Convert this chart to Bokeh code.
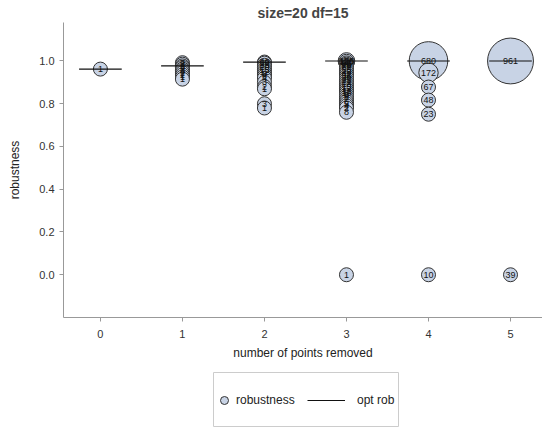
import numpy as np
from bokeh.plotting import figure
from bokeh.models import (ColumnDataSource, Legend, LegendItem, Range1d, FixedTicker,
                          PrintfTickFormatter, Spacer)
from bokeh.layouts import column, row
from bokeh.core.properties import value
from bokeh.embed import file_html
from bokeh.resources import INLINE

FONT = "Liberation Sans"

# number of points removed -> robustness values and their counts
rob_0 = [0.962]
cnt_0 = [1]
rob_1 = [0.915, 0.925, 0.935, 0.945, 0.955, 0.962, 0.97, 0.977, 0.985, 0.992]
cnt_1 = [1, 1, 2, 2, 3, 2, 3, 2, 2, 2]
rob_2 = [0.995, 0.99, 0.98, 0.97, 0.96, 0.95, 0.94, 0.93, 0.92, 0.90, 0.88, 0.87, 0.80, 0.78]
cnt_2 = [60, 29, 25, 20, 15, 12, 9, 6, 4, 3, 2, 1, 3, 1]
rob_3 = [1.0, 0.995, 0.99, 0.985, 0.98, 0.975, 0.97, 0.96, 0.95, 0.94, 0.93, 0.92, 0.91,
         0.90, 0.89, 0.88, 0.87, 0.86, 0.85, 0.84, 0.83, 0.82, 0.81, 0.80, 0.79, 0.78, 0.76, 0.0]
cnt_3 = [126, 110, 95, 85, 78, 70, 62, 55, 48, 42, 36, 30, 25,
         21, 18, 15, 13, 11, 10, 9, 8, 7, 6, 5, 4, 2, 8, 1]
rob_4 = [1.0, 0.945, 0.878, 0.817, 0.751, 0.0]
cnt_4 = [680, 172, 67, 48, 23, 10]
rob_5 = [1.0, 0.0]
cnt_5 = [961, 39]

removed_levels = [0, 1, 2, 3, 4, 5]
opt_rob = [0.962, 0.977, 0.995, 1.0, 1.0, 1.0]
series_names = ["robustness", "opt rob"]

groups = [(rob_0, cnt_0), (rob_1, cnt_1), (rob_2, cnt_2), (rob_3, cnt_3), (rob_4, cnt_4), (rob_5, cnt_5)]
xs, ys, ns = [], [], []
for k, (r, c) in zip(removed_levels, groups):
    xs += [k] * len(r)
    ys += r
    ns += c
xs = np.array(xs, float); ys = np.array(ys, float); ns = np.array(ns, float)
order = np.argsort(-ys, kind="stable")
xs, ys, ns = xs[order], ys[order], ns[order]
sizes = np.maximum(14.0, 1.48 * np.sqrt(ns))
src = ColumnDataSource(dict(x=xs, y=ys, size=sizes, label=[str(int(n)) for n in ns]))

FILL = "#c8d3e5"
EDGE = "#333333"
LINE = "#111111"

p = figure(width=542, height=362, output_backend="svg", toolbar_location=None,
           x_range=Range1d(-0.45, 5.39), y_range=Range1d(-0.2, 1.18),
           min_border_left=63, min_border_right=0, min_border_top=0,
           min_border_bottom=44,
           background_fill_color="white", border_fill_color="white")
p.outline_line_color = None
p.grid.visible = False

p.title.text = "size=20 df=15"
p.title.align = "center"
p.title.text_font = FONT
p.title.text_font_size = "14px"
p.title.text_font_style = "bold"
p.title.standoff = 4
p.title.offset = 0

for ax in (p.xaxis[0], p.yaxis[0]):
    ax.axis_line_color = "#999999"
    ax.major_tick_line_color = "#999999"
    ax.minor_tick_line_color = None
    ax.major_tick_in = 0
    ax.major_tick_out = 4
    ax.major_label_text_font = FONT
    ax.major_label_text_font_size = "11px"
    ax.major_label_text_color = "#333333"
    ax.axis_label_text_font = FONT
    ax.axis_label_text_font_size = "12px"
    ax.axis_label_text_font_style = "normal"
    ax.axis_label_text_color = "#222222"
p.xaxis.ticker = FixedTicker(ticks=removed_levels)
p.yaxis.ticker = FixedTicker(ticks=[0.0, 0.2, 0.4, 0.6, 0.8, 1.0])
p.yaxis.formatter = PrintfTickFormatter(format="%.1f")
p.xaxis.axis_label = "number of points removed"
p.yaxis.axis_label = "robustness"
p.xaxis.major_label_standoff = 8
p.xaxis.axis_label_standoff = 5
p.yaxis.major_label_standoff = 5
p.yaxis.axis_label_standoff = 14

p.scatter("x", "y", size="size", source=src, fill_color=FILL, line_color=EDGE, line_width=1)
p.text("x", "y", text="label", source=src, text_align="center", text_baseline="middle",
       text_font=value(FONT), text_font_size="9px", text_color="#111111")

lsrc = ColumnDataSource(dict(x0=[k - 0.26 for k in removed_levels],
                             x1=[k + 0.26 for k in removed_levels], y=opt_rob))
p.segment("x0", "y", "x1", "y", source=lsrc, line_color=LINE, line_width=1.2)

# legend box (separate small figure below the plot)
lg = figure(width=186, height=55, output_backend="svg", toolbar_location=None,
            x_range=Range1d(0, 1), y_range=Range1d(0, 1),
            x_axis_type=None, y_axis_type=None,
            min_border_left=0, min_border_right=0, min_border_top=0, min_border_bottom=0,
            background_fill_color="white", border_fill_color="white")
lg.grid.visible = False
lg.outline_line_color = "#cccccc"
lg.outline_line_width = 1
d_pts = lg.scatter(x=[10], y=[10], size=8, fill_color=FILL, line_color=EDGE, line_width=1)
d_line = lg.line(x=[10, 11], y=[10, 10], line_color=LINE, line_width=1.2)

leg_a = Legend(items=[LegendItem(label=series_names[0], renderers=[d_pts])],
               location=(0, 17), orientation="horizontal")
leg_b = Legend(items=[LegendItem(label=series_names[1], renderers=[d_line])],
               location=(94, 17), orientation="horizontal")
for lgd, gw, st in ((leg_a, 22, 1), (leg_b, 38, 12)):
    lgd.label_text_font = FONT
    lgd.label_text_font_size = "12px"
    lgd.label_text_color = "#222222"
    lgd.border_line_color = None
    lgd.background_fill_alpha = 0
    lgd.padding = 0
    lgd.margin = 0
    lgd.glyph_width = gw
    lgd.glyph_height = 20
    lgd.label_standoff = st
    lg.add_layout(lgd, "center")

layout = column(p, Spacer(width=542, height=10),
                row(Spacer(width=213, height=55), lg))

open("out.html", "w").write(file_html(layout, INLINE))
